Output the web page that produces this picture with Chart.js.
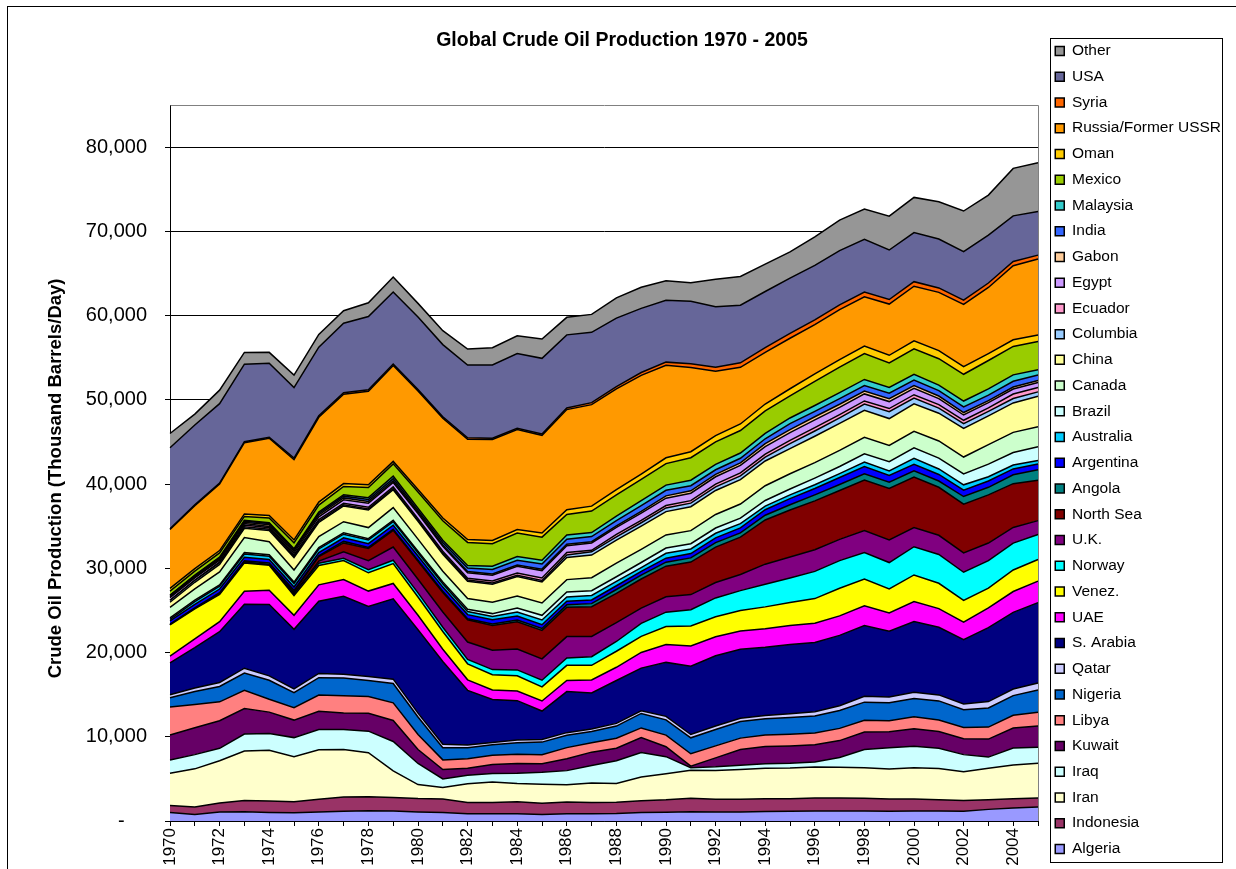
<!DOCTYPE html>
<html>
<head>
<meta charset="utf-8">
<title>Global Crude Oil Production 1970 - 2005</title>
<script src="https://cdn.jsdelivr.net/npm/chart.js@4.4.1/dist/chart.umd.min.js"></script>
<style>
  html, body { margin: 0; padding: 0; background: #fff; }
  #wrap { position: relative; width: 1236px; height: 869px; overflow: hidden; background: #fff; }
  #chart { position: absolute; left: 0; top: 0; }
  #frame { position: absolute; left: 7px; top: 6px; width: 1400px; height: 1000px;
           border: 1px solid #000; box-sizing: border-box; pointer-events: none; }
</style>
</head>
<body>
<div id="wrap">
  <canvas id="chart" width="1236" height="869"></canvas>
  <div id="frame"></div>
</div>
<script>
// Years on the category axis
const years = [1970,1971,1972,1973,1974,1975,1976,1977,1978,1979,
               1980,1981,1982,1983,1984,1985,1986,1987,1988,1989,
               1990,1991,1992,1993,1994,1995,1996,1997,1998,1999,
               2000,2001,2002,2003,2004,2005];

// Production by producer, thousand barrels per day (stack order: bottom to top)
const algeria   = [1000,760,1060,1100,1010,980,1070,1150,1230,1200, 1080,1000,870,850,870,780,860,860,880,1000, 1050,1110,1070,1070,1120,1150,1180,1200,1180,1150, 1180,1180,1170,1380,1550,1660];
const indonesia = [850,890,1080,1340,1375,1310,1500,1690,1635,1590, 1580,1605,1340,1345,1410,1325,1390,1345,1340,1410, 1460,1590,1505,1510,1510,1505,1545,1520,1520,1470, 1430,1340,1250,1155,1095,1070];
const iran      = [3830,4540,5020,5860,6020,5350,5880,5660,5240,3170, 1660,1380,2210,2440,2170,2250,2040,2300,2240,2810, 3090,3310,3430,3540,3620,3640,3690,3660,3630,3560, 3700,3720,3440,3740,4000,4140];
const iraq      = [1550,1690,1470,2020,1970,2260,2420,2350,2560,3480, 2510,1000,1010,1010,1210,1430,1690,2080,2690,2900, 2040,305,425,510,550,560,580,1155,2150,2510, 2570,2390,2020,1310,2010,1880];
const kuwait    = [2990,3200,3280,3020,2550,2080,2150,1970,2130,2500, 1660,1130,820,1060,1160,1020,1420,1590,1490,1780, 1180,190,1060,1850,2030,2060,2060,2010,2090,1900, 2080,2000,1890,2140,2380,2530];
const libya     = [3320,2760,2240,2180,1520,1480,1930,2060,1980,2090, 1790,1140,1150,1110,1090,1060,1310,1120,1180,1150, 1380,1480,1430,1360,1380,1390,1400,1450,1390,1320, 1410,1370,1320,1420,1520,1630];
const nigeria   = [1080,1530,1820,2050,2260,1780,2070,2090,1900,2300, 2060,1430,1300,1240,1390,1500,1470,1340,1450,1720, 1810,1890,1940,1960,1930,1990,2000,2130,2150,2130, 2170,2260,2120,2280,2330,2630];
const qatar     = [360,430,480,570,520,440,500,450,490,510, 470,420,330,270,330,300,310,290,320,320, 410,390,420,390,380,440,510,550,700,670, 740,710,680,750,780,840];
const saudi     = [3800,4770,6020,7600,8480,7080,8580,9250,8300,9530, 9900,9820,6480,5090,4660,3390,4870,4270,5090,5060, 6410,8120,8330,8200,8120,8230,8220,8360,8390,7830, 8400,8030,7630,8780,9100,9550];
const uae       = [780,1060,1200,1530,1680,1660,1940,2000,1830,1830, 1710,1470,1250,1150,1150,1190,1330,1540,1570,1860, 2120,2390,2270,2160,2190,2230,2280,2320,2350,2170, 2370,2210,2080,2350,2480,2540];
const venez     = [3710,3550,3220,3370,2980,2350,2290,2240,2170,2360, 2170,2100,1900,1800,1800,1680,1790,1750,1900,1910, 2140,2380,2370,2450,2590,2750,2940,3280,3170,2830, 3160,3010,2600,2340,2560,2570];
const norway    = [0,6,33,32,35,190,280,280,360,400, 490,500,520,610,700,790,870,1020,1160,1550, 1700,1920,2230,2350,2690,2900,3230,3280,3140,3140, 3350,3420,3330,3260,3190,2970];
const uk        = [4,4,6,7,8,30,245,770,1080,1570, 1620,1810,2070,2290,2480,2530,2540,2410,2230,1800, 1820,1800,1830,1920,2380,2490,2570,2520,2620,2680, 2280,2280,2290,2090,1850,1650];
const northSea  = [4,10,40,40,45,225,530,1050,1440,1970, 2120,2330,2630,2950,3230,3380,3490,3530,3490,3460, 3640,3860,4210,4430,5250,5580,5800,5800,6000,6120, 5990,5700,5800,5720,5200,4800];
const angola    = [100,110,140,160,170,165,100,180,130,145, 150,130,130,180,210,230,280,360,450,450, 475,500,530,500,560,630,710,710,735,745, 745,740,900,900,1050,1250];
const argentina = [390,420,430,420,420,400,390,430,450,470, 490,500,490,490,470,450,430,430,450,460, 480,510,570,600,650,720,760,830,850,800, 760,780,760,750,700,670];
const australia = [175,310,330,390,390,410,420,430,430,430, 380,390,375,405,480,560,515,545,510,450, 575,545,535,505,430,450,450,470,545,540, 720,650,630,510,470,420];
const brazil    = [165,170,165,170,175,170,170,160,160,165, 180,215,260,330,460,550,580,565,555,595, 630,630,625,645,670,695,785,840,970,1100, 1235,1295,1300,1495,1475,1635];
const canada    = [1260,1350,1530,1800,1550,1430,1310,1320,1320,1500, 1440,1290,1270,1360,1440,1470,1470,1540,1620,1560, 1550,1550,1610,1680,1750,1810,1840,1920,1980,1910, 1980,2030,2000,2310,2400,2370];
const china     = [600,780,900,1090,1320,1490,1670,1870,2080,2120, 2110,2010,2050,2120,2300,2500,2620,2690,2730,2760, 2770,2840,2850,2890,2940,2990,3130,3200,3200,3200, 3250,3300,3390,3410,3490,3610];
const columbia  = [226,218,197,186,170,160,147,138,131,124, 126,134,142,153,167,176,302,385,376,404, 440,426,434,455,450,585,623,652,733,816, 691,604,578,541,528,526];
const ecuador   = [4,4,78,209,177,161,188,183,201,214, 204,211,211,238,256,281,293,173,301,279, 285,299,321,344,365,392,396,388,375,373, 395,412,393,411,528,532];
const egypt     = [329,295,218,165,148,235,330,415,485,525, 595,598,665,687,800,887,812,870,848,870, 873,874,871,896,896,920,922,856,834,827, 768,720,627,618,594,580];
const gabon     = [109,115,125,151,202,223,223,222,209,203, 175,151,155,155,157,172,164,155,157,204, 270,294,293,305,339,355,365,370,337,340, 327,301,295,240,236,234];
const india     = [140,145,147,144,152,166,171,207,226,257, 182,305,396,519,573,604,610,608,631,686, 660,605,536,539,587,703,652,675,661,653, 646,642,665,660,683,660];
const malaysia  = [18,70,86,90,80,97,163,177,217,283, 283,257,303,383,442,449,503,481,543,580, 619,644,652,625,634,682,692,713,720,693, 690,660,698,738,761,630];
const mexico    = [487,486,506,465,571,705,831,981,1209,1461, 1936,2313,2748,2689,2780,2745,2435,2548,2512,2520, 2553,2680,2669,2673,2685,2618,2855,3023,3070,2906, 3012,3127,3177,3371,3383,3334];
const oman      = [332,293,282,293,290,341,366,340,315,295, 282,328,336,390,415,498,553,585,616,638, 685,708,743,776,805,851,883,897,895,904, 959,956,897,819,780,774];
const russia    = [6985,7476,7889,8465,9175,9523,10060,10603,11105,11384, 11706,11850,11912,11972,11861,11585,11895,12050,11960,11715, 10975,9992,7632,6730,6135,5995,5850,5920,5854,6079, 6479,6917,7408,7850,8805,9043];
const syria     = [83,105,115,105,120,180,190,180,170,165, 165,165,160,165,165,170,190,235,275,340, 385,450,480,530,560,580,580,570,550,540, 540,530,500,530,490,450];
const usa       = [9637,9463,9441,9208,8774,8375,8132,8245,8707,8552, 8597,8572,8649,8688,8879,8971,8680,8349,8140,7613, 7355,7417,7171,6847,6662,6560,6465,6452,6252,5881, 5822,5801,5746,5681,5419,5178];
const other     = [1680,1300,1600,1400,1300,1480,1520,1480,1630,1780, 1630,1650,1890,2040,2100,2300,2080,2130,2400,2500, 2300,2190,3260,3410,3250,3120,3390,3620,3600,4020, 4180,4425,4830,4760,5640,5790];

// Value axis ticks
const yTicks = [0,10000,20000,30000,40000,50000,60000,70000,80000];

// Stack order, bottom to top
const series = [
  ['Algeria', algeria], ['Indonesia', indonesia], ['Iran', iran], ['Iraq', iraq],
  ['Kuwait', kuwait], ['Libya', libya], ['Nigeria', nigeria], ['Qatar', qatar],
  ['S. Arabia', saudi], ['UAE', uae], ['Venez.', venez], ['Norway', norway],
  ['U.K.', uk], ['North Sea', northSea], ['Angola', angola], ['Argentina', argentina],
  ['Australia', australia], ['Brazil', brazil], ['Canada', canada], ['China', china],
  ['Columbia', columbia], ['Ecuador', ecuador], ['Egypt', egypt], ['Gabon', gabon],
  ['India', india], ['Malaysia', malaysia], ['Mexico', mexico], ['Oman', oman],
  ['Russia/Former USSR', russia], ['Syria', syria], ['USA', usa], ['Other', other]
];

// Fill colours per producer
const palette = {
  'Algeria': '#9999FF', 'Indonesia': '#993366', 'Iran': '#FFFFCC', 'Iraq': '#CCFFFF',
  'Kuwait': '#660066', 'Libya': '#FF8080', 'Nigeria': '#0066CC', 'Qatar': '#CCCCFF',
  'S. Arabia': '#000080', 'UAE': '#FF00FF', 'Venez.': '#FFFF00', 'Norway': '#00FFFF',
  'U.K.': '#800080', 'North Sea': '#800000', 'Angola': '#008080', 'Argentina': '#0000FF',
  'Australia': '#00CCFF', 'Brazil': '#CCFFFF', 'Canada': '#CCFFCC', 'China': '#FFFF99',
  'Columbia': '#99CCFF', 'Ecuador': '#FF99CC', 'Egypt': '#CC99FF', 'Gabon': '#FFCC99',
  'India': '#3366FF', 'Malaysia': '#33CCCC', 'Mexico': '#99CC00', 'Oman': '#FFCC00',
  'Russia/Former USSR': '#FF9900', 'Syria': '#FF6600', 'USA': '#666699', 'Other': '#969696'
};

const FONT = 'Arial, "Liberation Sans", Helvetica, sans-serif';

// Gray border on the top and right of the plot area
const plotFrame = {
  id: 'plotFrame',
  afterDraw(chart) {
    const {ctx, chartArea: a} = chart;
    ctx.save();
    ctx.strokeStyle = '#808080';
    ctx.lineWidth = 1;
    ctx.beginPath();
    ctx.moveTo(Math.round(a.left) + 0.5, Math.round(a.top) + 0.5);
    ctx.lineTo(Math.round(a.right) + 0.5, Math.round(a.top) + 0.5);
    ctx.lineTo(Math.round(a.right) + 0.5, Math.round(a.bottom));
    ctx.stroke();
    ctx.restore();
  }
};

// Box drawn around the legend
const legendFrame = {
  id: 'legendFrame',
  afterDraw(chart) {
    const lg = chart.legend;
    if (!lg) return;
    const ctx = chart.ctx;
    ctx.save();
    ctx.strokeStyle = '#000';
    ctx.lineWidth = 1;
    ctx.strokeRect(Math.round(lg.left + 5) + 0.5, Math.round(lg.top + 5) + 0.5, 172, 824);
    ctx.restore();
  }
};

new Chart(document.getElementById('chart'), {
  type: 'line',
  data: {
    labels: years,
    datasets: series.map(([name, values], i) => ({
      label: name,
      data: values,
      backgroundColor: palette[name],
      borderColor: '#000',
      borderWidth: 1.5,
      fill: i === 0 ? 'origin' : '-1',
      pointRadius: 0,
      pointHoverRadius: 0,
      tension: 0
    }))
  },
  options: {
    responsive: false,
    animation: false,
    events: [],
    layout: { padding: { left: 13, right: 5, top: 33, bottom: 0 } },
    plugins: {
      title: {
        display: true,
        text: 'Global Crude Oil Production 1970 - 2005',
        color: '#000',
        font: { family: FONT, size: 19.5, weight: 'bold', lineHeight: 0.8 },
        padding: { top: 0, bottom: 56.4 }
      },
      legend: {
        position: 'right',
        align: 'start',
        reverse: true,
        labels: {
          color: '#000',
          font: { family: FONT, size: 15.5 },
          boxWidth: 9,
          boxHeight: 9,
          padding: 10.24
        }
      },
      tooltip: { enabled: false }
    },
    scales: {
      x: {
        type: 'category',
        offset: false,
        grid: { drawOnChartArea: false, drawTicks: true, tickLength: 5, color: '#000', tickColor: '#000' },
        border: { display: true, color: '#000', width: 1 },
        ticks: {
          autoSkip: false,
          minRotation: 90,
          maxRotation: 90,
          padding: 2,
          color: '#000',
          font: { family: FONT, size: 17 },
          callback(value, index) { return index % 2 === 0 ? String(years[index]) : ''; }
        },
        afterFit(scale) { scale.height = 48; }
      },
      y: {
        stacked: true,
        min: 0,
        max: 85000,
        grid: { color: '#000', lineWidth: 1, drawTicks: true, tickLength: 5, tickColor: '#000' },
        border: { display: true, color: '#000', width: 1 },
        afterBuildTicks(scale) { scale.ticks = yTicks.map(v => ({ value: v })); },
        ticks: {
          includeBounds: false,
          padding: 18,
          color: '#000',
          font: { family: FONT, size: 20 },
          callback(value) { return value === 0 ? '-    ' : value.toLocaleString('en-US'); }
        },
        title: {
          display: true,
          text: 'Crude Oil Production (Thousand Barrels/Day)      ',
          color: '#000',
          font: { family: FONT, size: 18.5, weight: 'bold' },
          padding: { top: 31.9, bottom: 0 }
        },
        afterFit(scale) { scale.width = 157; }
      },
      gap: {
        type: 'linear',
        position: 'right',
        display: true,
        grid: { display: false },
        border: { display: false },
        ticks: { display: false },
        afterFit(scale) { scale.width = 7; }
      }
    }
  },
  plugins: [plotFrame, legendFrame]
});
</script>
</body>
</html>
